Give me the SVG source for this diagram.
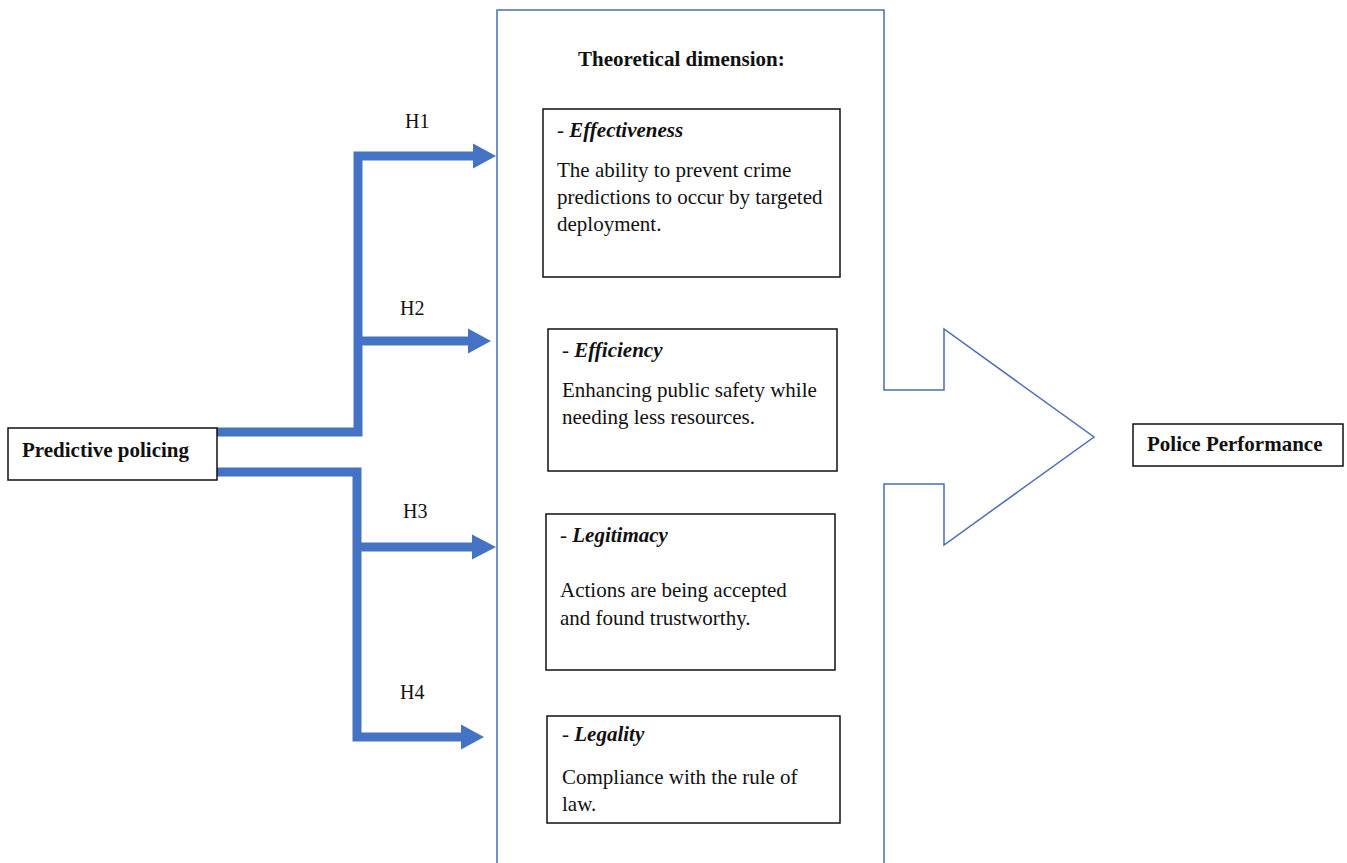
<svg xmlns="http://www.w3.org/2000/svg" width="1347" height="863" viewBox="0 0 1347 863">
<style>
text{font-family:"Liberation Serif","Times New Roman",serif;fill:#111;font-size:21px}
.b{font-weight:bold}
.bi{font-weight:bold;font-style:italic}
.h{font-size:20px}
.box{fill:#fff;stroke:#111;stroke-width:1.5}
.conn{fill:none;stroke:#4472C4;stroke-width:9;stroke-linejoin:miter}
.head{fill:#4472C4}
</style>
<rect width="1347" height="863" fill="#fff"/>
<g id="container">
<path d="M497,863 V10 H884 V390 H944 V329 L1094,437 L944,545 V484 H884 V863" fill="none" stroke="#4a6fb3" stroke-width="1.5"/>
<text x="578" y="66" class="b">Theoretical dimension:</text>
</g>
<g id="connectors">
<path class="conn" d="M217,432 H358 V156 H474"/>
<path class="conn" d="M358,341 H469"/>
<path class="conn" d="M217,472 H357 V737 H462"/>
<path class="conn" d="M357,547 H473"/>
<polygon class="head" points="473,143.5 496,156 473,168.5"/>
<polygon class="head" points="468,328.5 491,341 468,353.5"/>
<polygon class="head" points="472,534.5 496,547 472,559.5"/>
<polygon class="head" points="461,724.5 484,737 461,749.5"/>
<text x="405" y="128" class="h">H1</text>
<text x="400" y="315" class="h">H2</text>
<text x="403" y="518" class="h">H3</text>
<text x="400" y="699" class="h">H4</text>
</g>
<g id="predictive-policing">
<rect class="box" x="8" y="428" width="209" height="52"/>
<text x="22" y="457" class="b">Predictive policing</text>
</g>
<g id="effectiveness">
<rect class="box" x="543" y="109" width="297" height="168"/>
<text x="557" y="137"><tspan>- </tspan><tspan class="bi">Effectiveness</tspan></text>
<text x="557" y="177">The ability to prevent crime</text>
<text x="557" y="204">predictions to occur by targeted</text>
<text x="557" y="231">deployment.</text>
</g>
<g id="efficiency">
<rect class="box" x="548" y="329" width="289" height="142"/>
<text x="562" y="357"><tspan>- </tspan><tspan class="bi">Efficiency</tspan></text>
<text x="562" y="397">Enhancing public safety while</text>
<text x="562" y="424">needing less resources.</text>
</g>
<g id="legitimacy">
<rect class="box" x="546" y="514" width="289" height="156"/>
<text x="560" y="542"><tspan>- </tspan><tspan class="bi">Legitimacy</tspan></text>
<text x="560" y="597">Actions are being accepted</text>
<text x="560" y="625">and found trustworthy.</text>
</g>
<g id="legality">
<rect class="box" x="547" y="716" width="293" height="107"/>
<text x="562" y="741"><tspan>- </tspan><tspan class="bi">Legality</tspan></text>
<text x="562" y="784">Compliance with the rule of</text>
<text x="562" y="811">law.</text>
</g>
<g id="police-performance">
<rect class="box" x="1133" y="424" width="210" height="42"/>
<text x="1147" y="451" class="b">Police Performance</text>
</g>
</svg>
